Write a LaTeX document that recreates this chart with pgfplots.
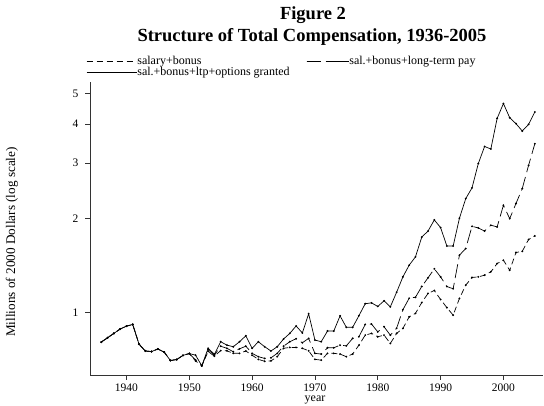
\documentclass[border=0pt]{standalone}
\usepackage{fontspec}
\setmainfont{Liberation Serif}
\usepackage{pgfplots}
\usepackage{pgfplotstable}
\pgfplotsset{compat=1.18}

\pgfplotstableread{
year A B C
1936 0.804 0.804 0.804
1937 0.830 0.830 0.830
1938 0.857 0.857 0.857
1939 0.885 0.885 0.885
1940 0.904 0.904 0.904
1941 0.915 0.915 0.915
1942 0.792 0.792 0.792
1943 0.753 0.753 0.753
1944 0.750 0.750 0.750
1945 0.764 0.764 0.764
1946 0.747 0.747 0.747
1947 0.702 0.702 0.702
1948 0.707 0.707 0.707
1949 0.729 0.729 0.729
1950 0.739 0.739 0.739
1951 0.700 0.705 0.730
1952 0.675 0.675 0.675
1953 0.750 0.760 0.768
1954 0.725 0.730 0.735
1955 0.755 0.780 0.806
1956 0.754 0.768 0.786
1957 0.740 0.749 0.777
1958 0.740 0.765 0.806
1959 0.753 0.780 0.842
1960 0.730 0.740 0.768
1961 0.708 0.722 0.806
1962 0.698 0.713 0.777
1963 0.700 0.716 0.753
1964 0.722 0.740 0.777
1965 0.768 0.780 0.822
1966 0.773 0.806 0.857
1967 0.773 0.824 0.905
1968 0.768 0.800 0.860
1969 0.754 0.826 0.990
1970 0.708 0.740 0.816
1971 0.704 0.736 0.806
1972 0.740 0.771 0.872
1973 0.740 0.771 0.872
1974 0.736 0.786 0.975
1975 0.722 0.782 0.896
1976 0.736 0.826 0.896
1977 0.786 0.836 0.976
1978 0.846 0.915 1.066
1979 0.857 0.918 1.073
1980 0.836 0.867 1.045
1981 0.846 0.900 1.089
1982 0.796 0.846 1.042
1983 0.857 0.890 1.160
1984 0.889 1.020 1.299
1985 0.968 1.110 1.416
1986 0.993 1.118 1.505
1987 1.075 1.210 1.740
1988 1.150 1.290 1.820
1989 1.175 1.378 1.975
1990 1.100 1.299 1.867
1991 1.036 1.210 1.630
1992 0.980 1.190 1.630
1993 1.108 1.524 2.000
1994 1.222 1.600 2.310
1995 1.293 1.885 2.500
1996 1.299 1.862 2.990
1997 1.315 1.820 3.390
1998 1.348 1.900 3.330
1999 1.433 1.876 4.170
2000 1.468 2.200 4.650
2001 1.364 1.994 4.190
2002 1.554 2.229 4.010
2003 1.568 2.488 3.800
2004 1.710 2.950 3.990
2005 1.756 3.460 4.370
}\datatable

\begin{document}
\begin{tikzpicture}
\path[use as bounding box] (0pt,0pt) rectangle (544pt,406pt);
\begin{axis}[
  at={(90pt,31pt)}, anchor=south west,
  scale only axis, width=453pt, height=293pt,
  ymode=log,
  xmin=1934.2, xmax=2006.3, ymin=0.631, ymax=5.45,
  axis lines*=left,
  axis line style={line width=0.8pt, black!80},
  xtick={1940,1950,1960,1970,1980,1990,2000},
  ytick={1,2,3,4,5}, yticklabels={1,2,3,4,5},
  minor ytick={}, minor tick num=0,
  tick align=outside, major tick length=5pt,
  tick style={line width=0.8pt, black!80},
  xticklabel style={/pgf/number format/1000 sep=},
  yticklabel style={xshift=-3pt},
  /pgf/number format/assume math mode=true,
  tick label style={font=\fontsize{11.5}{13}\selectfont},
  legend columns=2,
  legend cell align=left,
  legend style={at={(-0.0089,1.090)}, anchor=north west, draw=none, fill=none,
    inner sep=0pt, row sep=0pt,
    font=\fontsize{12}{13}\selectfont,
    nodes={inner sep=0.5pt},
    /tikz/every even column/.append style={column sep=16pt}},
  clip=false,
]
\addplot[black, line width=0.7pt, dash pattern=on 6pt off 3.5pt,
  mark=*, mark size=0.55pt, mark options={solid},
  legend image code/.code={\draw[black, line width=0.7pt, dash pattern=on 6pt off 4pt] (0pt,0pt) -- (50pt,0pt);}]
  table[x=year, y=A] {\datatable};
\addlegendentry{salary+bonus}
\addplot[black, line width=0.7pt, dash pattern=on 14pt off 5pt,
  mark=*, mark size=0.55pt, mark options={solid},
  legend image code/.code={\draw[black, line width=0.7pt, dash pattern=on 14pt off 10pt] (0pt,0pt) -- (39pt,0pt); \path (0pt,0pt) -- (42pt,0pt);}]
  table[x=year, y=B] {\datatable};
\addlegendentry{sal.+bonus+long-term pay}
\addplot[black, line width=0.7pt, solid,
  mark=*, mark size=0.55pt, mark options={solid},
  legend image code/.code={\draw[black, line width=0.7pt] (0pt,0pt) -- (50pt,0pt);}]
  table[x=year, y=C] {\datatable};
\addlegendentry{sal.+bonus+ltp+options granted}
\end{axis}
\node[anchor=base, font=\bfseries\fontsize{18.5}{21}\selectfont] at (313pt,386pt) {Figure 2};
\node[anchor=base, font=\bfseries\fontsize{18.5}{21}\selectfont] at (312pt,364.3pt) {Structure of Total Compensation, 1936-2005};
\node[anchor=base, font=\fontsize{12}{14}\selectfont] at (315pt,4pt) {year};
\node[rotate=90, font=\fontsize{13.2}{15}\selectfont] at (12pt,164pt) {Millions of 2000 Dollars (log scale)};
\end{tikzpicture}
\end{document}
